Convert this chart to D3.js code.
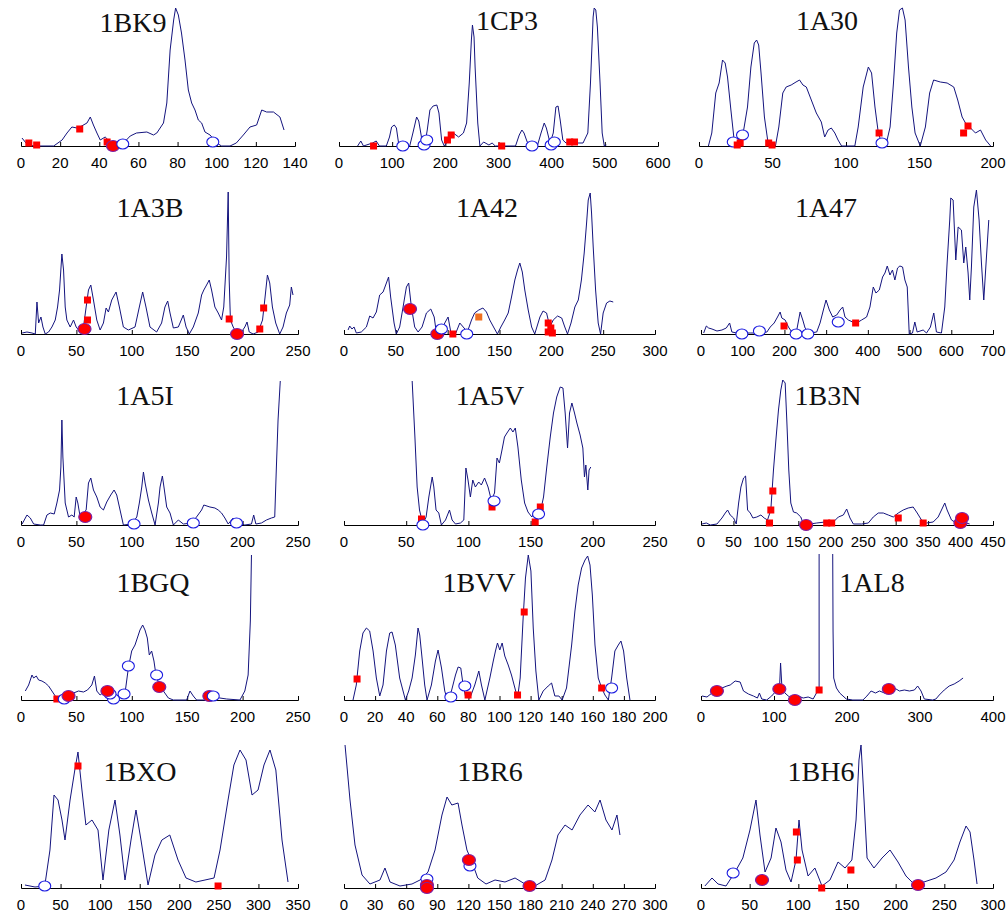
<!DOCTYPE html>
<html>
<head>
<meta charset="utf-8">
<script src="https://cdn.jsdelivr.net/npm/d3@7/dist/d3.min.js"></script>
<style>
  body { margin: 0; background: #fff; }
  .lbl { font-family: "Liberation Sans", Arial, sans-serif; font-size: 15px; fill: #000; }
  .title { font-family: "Liberation Serif", "Times New Roman", serif; font-size: 28px; fill: #111; }
</style>
</head>
<body>
<svg id="chart" width="1007" height="919"></svg>
<script>
// profile values per protein, [residue, value]
const bk9 = [[0.5,8],[3,2],[6.5,0],[16.7,0],[21,6],[23.5,13],[26,19],[28.6,18],[31,20],[33.7,23],[35.4,29],[37,21],[38.8,13],[40.5,6],[43,9],[45.6,4],[48,0],[52.4,3],[55.8,10],[59,13],[64.3,14],[67.7,11],[69.4,13],[72.8,23],[74.5,43],[76.2,96],[78,126],[79,138],[80.4,131],[82,113],[83.8,86],[85.5,56],[87.2,43],[88.9,36],[90.6,26],[92.3,23],[94,14],[96.6,11],[100,3],[102.5,0],[106.8,0],[110,3],[113.6,11],[117,19],[120.4,21],[123,36],[125.5,34],[129,34],[132.3,29],[134.4,16]];
const bk9Marks = [[4,3,"sq"],[8,1,"sq"],[30,17,"sq"],[44,4,"sq"],[47,0,"fc"],[52,2,"oc"],[98,4,"oc"]];

const cp3 = [[35,0],[41,5],[46,0],[63,3],[70,5],[76,0],[89,0],[95,9],[99,19],[104,21],[108,18],[112,3],[117,0],[133,0],[139,13],[146,29],[150,25],[156,6],[161,0],[166,16],[171,36],[177,40],[184,41],[188,33],[193,6],[198,0],[206,6],[215,13],[225,9],[234,13],[240,23],[245,63],[249,106],[251,121],[254,109],[256,79],[261,23],[265,0],[272,4],[282,1],[288,3],[294,0],[332,0],[339,11],[344,16],[348,13],[354,4],[364,0],[373,0],[380,13],[386,23],[390,18],[397,3],[403,13],[408,39],[412,40],[416,26],[421,6],[427,3],[446,3],[459,3],[468,13],[473,63],[478,129],[480,138],[483,136],[486,119],[491,63],[495,13],[499,0],[503,1]];
const cp3Marks = [[120,0,"oc"],[160,1,"oc"],[165,6,"oc"],[363,0,"oc"],[399,1,"oc"],[405,4,"oc"],[65,0,"sq"],[204,6,"sq"],[211,11,"sq"],[306,0,"sq"],[434,4,"sq"],[443,4,"sq"]];

const a30 = [[6.4,0],[8.7,13],[11.4,53],[13.7,63],[16,86],[17.8,83],[19.4,69],[21.7,36],[23.9,6],[26.2,0],[29.6,9],[33,39],[35.3,79],[37.6,103],[39.2,106],[40.6,101],[42.2,73],[44.5,29],[46.7,6],[49,0],[52,0],[54.3,19],[57,53],[59.3,59],[62.7,61],[66,64],[68.4,66],[70.7,61],[73,59],[76.4,46],[79.8,33],[83.2,24],[85.5,9],[87.8,16],[90,18],[92.4,13],[94.6,6],[97,0],[106,0],[108.3,19],[111.7,59],[115.2,79],[117.4,73],[119.7,39],[122,13],[124.3,3],[127,0],[130,19],[132.3,63],[134.5,113],[136.4,136],[138.4,138],[140.2,126],[142.5,79],[144.8,39],[147,13],[150.5,0],[154,19],[156.9,53],[159.6,66],[164.2,64],[168.8,63],[173.3,59],[176,46],[179,29],[181.3,23],[184.7,18],[188.1,13],[191.5,16],[195,6],[198.4,0]];
const a30Marks = [[23.3,4,"oc"],[29.6,11,"oc"],[124.5,3,"oc"],[26,1,"sq"],[28,3,"sq"],[47.4,3,"sq"],[49.7,1,"sq"],[122.5,13,"sq"],[180,13,"sq"],[183,20,"sq"]];

const a3b = [[1,1],[5.4,2],[9.9,1],[12.9,0],[14.4,32],[15.9,11],[18,17],[19.8,7],[21.9,0],[24.9,2],[27.9,7],[30.9,14],[33,27],[34.8,44],[36.9,80],[38.4,64],[39.9,27],[41.4,14],[44.4,7],[47.4,14],[49.8,7],[53.4,2],[56.4,7],[58.8,27],[60.9,44],[63,49],[65.4,34],[68.4,14],[71.4,4],[74.4,11],[76.8,26],[78.9,22],[81.9,34],[85.8,42],[88.8,27],[92.4,7],[96.9,4],[102.9,7],[106.8,27],[109.8,42],[112.8,27],[116.4,7],[122.4,2],[126.9,11],[129.9,27],[132.4,33],[134.5,21],[137.5,6],[142,7],[146.5,19],[149,7],[151.9,0],[155.5,7],[160,21],[163,39],[165,44],[167.5,49],[169.9,54],[172,44],[175,27],[178,21],[181,14],[183,27],[185.5,77],[187,142],[187.9,54],[189,14],[191.5,7],[195,0],[199,2],[202,7],[204,12],[206,2],[209.5,0],[214,2],[218,14],[220,34],[222.4,59],[224.5,51],[226.9,27],[229.9,11],[233.5,0],[236.5,7],[239.5,21],[242.5,29],[244,47],[245.5,39]];
const a3bMarks = [[60,34,"sq"],[60,14,"sq"],[187.9,15,"sq"],[215.5,5,"sq"],[219,26,"sq"],[57.3,5,"fc"],[195,0,"fc"]];

const a42 = [[3.9,4],[5.5,8],[7.7,5],[9.7,7],[11.9,1],[16.7,2],[21.6,7],[24.8,18],[28,16],[31.2,22],[34.4,39],[37.7,42],[40.9,51],[43,57],[45,37],[48.3,11],[50.5,0],[53.7,7],[57,27],[60.2,47],[62.4,51],[65,27],[68.2,7],[71.5,2],[75.3,7],[79.5,21],[83.7,25],[87,17],[89,2],[93.3,2],[97.2,11],[100.4,17],[103,2],[107.5,0],[111.7,11],[115,7],[119,2],[123,14],[126,21],[130,24],[134,26],[137.4,22],[140.6,14],[144.8,6],[148,0],[151.3,7],[155,14],[158.4,21],[161.6,37],[164.8,54],[167.4,64],[169.6,71],[172,62],[174.4,44],[177.7,24],[181,7],[184,0],[189,17],[192,23],[195.4,21],[198.6,7],[201.8,14],[206,18],[210,16],[213,7],[215.6,0],[219,11],[222.7,27],[226,34],[229,54],[231.7,81],[234,111],[235.6,134],[237.5,141],[238.8,121],[240.4,87],[242.7,44],[245.2,11],[247.5,0],[250,21],[253.3,31],[256.5,33],[259.7,32]];
const a42Marks = [[63.7,25,"fc"],[90,0,"fc"],[94,5,"oc"],[118.4,0,"oc"],[105,0,"sq"],[130,17,"os"],[197,11,"sq"],[199.5,6,"sq"],[201,1,"sq"],[197,2,"sq"]];

const a47 = [[6.4,1],[12.8,8],[18.3,6],[26.3,5],[38.3,3],[50.2,4],[60.6,6],[68.6,11],[74,2],[86,1],[118,1],[142,1],[158,2],[166,7],[175.4,11],[183.4,17],[189.7,22],[193.7,16],[201.7,14],[209.6,7],[217.6,2],[229.6,4],[237.6,22],[244,14],[249.5,6],[261.5,1],[277.4,2],[285.4,11],[293.4,24],[299.7,34],[307.7,24],[315.7,17],[325.3,19],[333.3,24],[339.7,27],[345.2,17],[353.2,14],[363.6,12],[373.2,11],[385,14],[397,17],[405,27],[413,47],[419.4,41],[427.4,44],[435.3,57],[441,61],[446.5,68],[452.9,59],[459,64],[464.8,54],[471.2,66],[476.8,68],[483.2,67],[488.8,54],[494.4,47],[499.2,0],[507,1],[512.6,12],[518.2,2],[532.6,4],[540.6,1],[550,7],[558,21],[564.4,2],[576.4,1],[584.4,27],[590,71],[596.3,114],[598.8,136],[604.4,134],[610.8,74],[616.4,107],[624.3,104],[629.9,71],[634.7,87],[640.3,61],[644.3,34],[648.3,67],[653.9,127],[660.3,144],[666.7,114],[672.3,71],[677.9,34],[684.3,77],[689.9,114]];
const a47Marks = [[98,0,"oc"],[140,3,"oc"],[228,0,"oc"],[256,0,"oc"],[329,12,"oc"],[199,8,"sq"],[370.7,11,"sq"]];

const a5i = [[1,1],[5.4,10],[8.4,7],[11.4,1],[17.4,0],[20.4,0],[23.4,10],[26.4,12],[30,11],[32.4,22],[34.8,35],[36,58],[36.9,105],[37.8,68],[39.9,22],[42.9,8],[45.9,10],[48,8],[49.8,28],[51.3,22],[53.4,8],[56.4,12],[58.8,15],[60.9,42],[63,47],[65.4,35],[68.4,28],[71.4,18],[74.4,15],[77.4,23],[81,30],[84,35],[86.4,30],[89.4,15],[92.4,0],[99.9,1],[104.5,8],[106.8,22],[109,38],[110.5,53],[112,42],[115,25],[118,12],[121,0],[124,22],[125.5,38],[127.6,49],[129.4,35],[131.5,18],[134.5,12],[137.5,0],[142,5],[146.5,1],[154,2],[158.4,8],[163,15],[165,20],[170.5,18],[175,17],[178,15],[181,12],[184,7],[187,1],[191.5,7],[196,2],[202,0],[208,1],[210,10],[212,1],[217,2],[221.5,5],[226,7],[229,8],[230.4,55],[232,105],[234,144]];
const a5iMarks = [[58,8,"fc"],[102,1,"oc"],[155.5,2,"oc"],[194.5,2,"oc"]];

const a5v = [[54.8,144],[57,88],[58.8,38],[60.7,15],[63.4,1],[66,8],[68.2,28],[70.9,48],[72.2,38],[74,15],[76.2,12],[78.3,0],[81.6,5],[84.8,15],[86.9,5],[89.6,1],[93.6,2],[96.3,5],[98,57],[99.7,45],[101.6,28],[103.5,45],[105.6,38],[108.3,43],[110.4,40],[113,47],[115.8,38],[118.4,25],[121,32],[123,67],[124.9,62],[127,75],[129,88],[131,92],[133.7,97],[135.8,93],[137.7,97],[139.8,78],[142.5,45],[145.2,22],[147.9,13],[151,8],[153.7,15],[157,8],[160.4,28],[163,58],[165.8,88],[168.4,112],[171,128],[173.8,138],[176,137],[177.8,112],[179.7,77],[181.3,112],[183.2,122],[185.3,112],[187.2,102],[189.8,90],[192,77],[193.3,48],[194.4,60],[196,35],[197,55],[198.4,58]];
const a5vMarks = [[62.3,6,"sq"],[119,18,"sq"],[153.7,3,"sq"],[157.8,18,"sq"],[63.4,0,"oc"],[120.6,24,"oc"],[156.4,11,"oc"]];

const b3n = [[1.5,1],[8.2,2],[14.4,0],[24.6,1],[32.3,7],[37.4,12],[41,15],[45,10],[50.2,7],[54.3,1],[58,22],[61.5,38],[65.6,47],[68.7,49],[71.8,15],[75.9,12],[80,7],[86,8],[92.3,10],[97.4,7],[102.5,5],[107.6,15],[111.7,55],[115.8,88],[119.4,115],[123,135],[126,145],[129.7,142],[132.2,105],[135.3,55],[138.4,22],[142.5,13],[147.6,12],[153.8,8],[157.9,1],[168,1],[178.4,2],[191.2,3],[204,3],[211.7,8],[219.4,10],[224.5,16],[229.6,7],[234.8,1],[247.6,1],[257.8,2],[265.5,8],[273.2,12],[280.9,12],[288.6,10],[296.3,8],[304,12],[311.6,15],[319.3,17],[327,18],[333.2,12],[339.8,5],[347.5,2],[357.8,3],[365.5,8],[370.6,15],[375.7,22],[379.3,15],[386,5],[393.6,2],[403.9,3],[414,1]];
const b3nMarks = [[105.6,2,"sq"],[107.6,15,"sq"],[110.7,34,"sq"],[193.7,2,"sq"],[201.4,2,"sq"],[304,7,"sq"],[342.4,2,"sq"],[162,0,"fc"],[399.8,2,"fc"],[402.4,7,"fc"]];

const bgq = [[3.9,9],[6.9,15],[9.9,25],[11.4,22],[13.8,24],[15.9,20],[18.9,19],[21.9,17],[24.9,14],[27.9,9],[30.9,4],[33.9,0],[38.4,1],[42.9,4],[47.4,7],[51.9,9],[56.4,8],[60,10],[63.9,15],[66.3,24],[68.4,9],[71.4,5],[75.9,9],[80.4,4],[84.9,1],[89.4,5],[93.9,7],[96.9,32],[99.9,49],[102.9,55],[105,62],[107.4,70],[109.8,75],[111.9,70],[114,62],[115.8,45],[117.9,49],[120,39],[121.8,25],[124.8,15],[128.5,9],[133,2],[137.5,0],[149.5,0],[152.5,9],[155.5,4],[158.5,0],[167.5,0],[173.5,4],[179.5,2],[185.6,1],[197.6,0],[202,9],[205,25],[207,79],[208,145]];
const bgqMarks = [[32.4,1,"sq"],[39,1,"oc"],[83.5,1,"oc"],[80.4,6,"oc"],[93,6,"oc"],[96.9,34,"oc"],[122.4,25,"oc"],[42.9,4,"fc"],[124.8,13,"fc"],[78,9,"fc"],[170,4,"fc"],[173.5,4,"oc"]];

const bvv = [[5.8,0],[7.9,15],[10.1,49],[12.2,67],[14.4,72],[16.5,69],[18.7,49],[20.8,22],[23,4],[25.1,15],[27.3,49],[29.4,67],[30.9,68],[33,55],[35.8,22],[39.5,0],[41.6,9],[43.8,22],[45.9,45],[47.6,72],[48.7,65],[50.2,42],[51.9,15],[53.4,0],[56.2,15],[58.8,39],[60.5,50],[62.7,32],[64.8,9],[66.5,0],[69.1,9],[71.7,25],[73.4,33],[75.1,32],[76.6,15],[78.1,4],[81,2],[84.1,15],[86.7,29],[88.4,15],[90.6,0],[93.8,22],[96,39],[97.4,49],[98.7,57],[100.2,50],[101.7,57],[103.4,44],[105.6,35],[107.7,25],[109.9,12],[111.6,2],[113.3,22],[115.2,82],[116.7,122],[118.5,145],[120.2,129],[121.7,72],[123.4,29],[125.3,0],[128.1,9],[131.3,14],[133.5,17],[135.6,4],[138.2,4],[140.3,0],[143.1,12],[146.4,55],[148.5,89],[150.6,115],[152.8,132],[155,140],[156.7,144],[158.2,135],[159.7,105],[161.4,55],[163.5,22],[165.7,12],[167.8,5],[170,0],[172.1,22],[174.2,49],[176.4,55],[178.1,59],[179.8,49],[181.8,22],[183.9,0]];
const bvvMarks = [[68.7,3,"oc"],[77.7,14,"oc"],[172.1,12,"oc"],[8.4,21,"sq"],[79.8,5,"sq"],[111.6,5,"sq"],[115.9,88,"sq"],[165.7,12,"sq"]];

const al8 = [[1.4,4],[8.2,3],[15,7],[21.8,10],[28.6,12],[35.5,14],[40,15],[46.8,19],[53.6,18],[58.2,9],[65,6],[71.8,4],[77.3,2],[80,7],[83.2,1],[90,0],[96.8,4],[102.7,9],[107.3,7],[109,37],[110.9,12],[115,7],[119.5,4],[126.4,1],[133.2,4],[140,2],[146.8,3],[153.6,1],[158.2,7],[161.8,12],[161.8,300],[179.5,300],[180.9,69],[181.8,22],[185.5,12],[190,7],[194.5,4],[199,1],[208,0],[221.8,0],[227.3,4],[233,9],[239,7],[244.5,9],[251.4,7],[258,10],[265,12],[271.8,9],[278.6,10],[285.5,9],[292.3,10],[296.8,14],[301.4,9],[305.9,1],[317.3,0],[321.8,1],[326.4,5],[333.2,10],[340,14],[346.8,16],[353.6,19],[359,22]];
const al8Marks = [[21.8,9,"fc"],[107.3,11,"fc"],[128.6,0,"fc"],[257.3,11,"fc"],[161.8,10,"sq"]];

const bxo = [[5,3],[17.7,1],[30,2],[36.6,38],[41.7,93],[46.8,88],[51.8,68],[55.6,48],[62,88],[68,118],[72,136],[77,98],[82,63],[89.7,68],[97.3,58],[103.6,8],[111,58],[118.8,88],[125,53],[131.4,8],[139,48],[145.3,78],[151.6,48],[160.5,3],[169.3,33],[178,48],[188,53],[198.4,28],[208.5,10],[221,6],[232.5,8],[243.9,10],[251.5,38],[261.6,88],[269,123],[276.7,138],[284.3,128],[291.9,93],[299.5,98],[307,123],[314.6,138],[322,118],[329.8,48],[337.4,6]];
const bxoMarks = [[30,2,"oc"],[72,122,"sq"],[249,2,"sq"]];

const br6 = [[1,143],[5.8,88],[10.6,43],[17.4,13],[25,4],[34.7,8],[39.5,20],[44.4,6],[54,2],[65.6,4],[73.3,8],[81,16],[87.8,38],[94.5,73],[99.4,91],[104,83],[110,85],[113.8,63],[118.6,38],[123.5,26],[129,10],[137,4],[145.7,8],[155.3,6],[165,10],[174.6,4],[184,2],[194,8],[200.6,28],[206.4,53],[213.2,63],[220,58],[227.6,73],[235.4,83],[242,76],[247,88],[252.7,68],[258.5,58],[263.3,73],[266.2,53]];
const br6Marks = [[80,9,"oc"],[80,3,"fc"],[80,0,"fc"],[121.5,22,"oc"],[120.5,28,"fc"],[179,2,"fc"]];

const bh6 = [[4,2],[11.3,10],[17.5,4],[25.7,2],[35,16],[43,30],[50.3,58],[56.5,88],[60.6,53],[65.8,16],[72,30],[77,60],[82.2,46],[87.3,18],[92.5,6],[97.6,28],[100.7,68],[103.8,38],[110,12],[117,20],[124.3,2],[132.5,8],[140.8,26],[148,20],[155,28],[159.3,68],[162.3,128],[164.4,143],[167.5,88],[170.6,30],[177.7,20],[186,30],[194.2,38],[202.4,26],[210.6,12],[218.8,4],[229,6],[241.4,10],[251.7,16],[260,28],[266,46],[272.3,62],[276.4,56],[280.5,28],[283.6,4]];
const bh6Marks = [[33,15,"oc"],[62.7,8,"fc"],[98,56,"sq"],[99,28,"sq"],[124,0,"sq"],[154,18,"sq"],[223,3,"fc"]];

const names = ["1BK9","1CP3","1A30","1A3B","1A42","1A47","1A5I","1A5V","1B3N","1BGQ","1BVV","1AL8","1BXO","1BR6","1BH6"];
const xMaxes = [140,600,200,250,300,700,250,250,450,250,200,400,350,300,300];
const tickSteps = [20,100,50,50,50,100,50,50,50,50,20,100,50,30,50];
const lines = [bk9,cp3,a30,a3b,a42,a47,a5i,a5v,b3n,bgq,bvv,al8,bxo,br6,bh6];
const marks = [bk9Marks,cp3Marks,a30Marks,a3bMarks,a42Marks,a47Marks,a5iMarks,a5vMarks,b3nMarks,bgqMarks,bvvMarks,al8Marks,bxoMarks,br6Marks,bh6Marks];

// layout
const rowBase = [146, 334, 525, 700, 888];
const colsTop = [[21,295],[339,658],[699,993]];
const cols = [[21,298],[344,655],[701,993]];
const titlePos = [[133,32],[507,30],[827,30],[150,217],[487,217],[826,217],[145,405],[490,405],[828,405],[153,592],[479,592],[872,592],[140,781],[490,781],[821,781]];

const svg = d3.select("#chart");
const defs = svg.append("defs");

names.forEach((name, i) => {
  const row = Math.floor(i / 3), col = i % 3;
  const base = rowBase[row];
  const [x0, x1] = (row === 0 ? colsTop : cols)[col];

  const x = d3.scaleLinear().domain([0, xMaxes[i]]).range([x0, x1]);
  const y = d3.scaleLinear().domain([0, 140]).range([base, base - 140]);

  defs.append("clipPath").attr("id", "clip" + i)
    .append("rect")
    .attr("x", x0 - 2).attr("y", base - 146)
    .attr("width", x1 - x0 + 4).attr("height", 148);

  const g = svg.append("g");

  // axis, ticks pointing inward; labels drawn separately
  const ticks = [];
  for (let t = 0; t <= xMaxes[i]; t += tickSteps[i]) ticks.push(t);
  const axis = d3.axisBottom(x)
    .tickValues(ticks)
    .tickSize(-4)
    .tickFormat("");
  const ax = g.append("g")
    .attr("transform", `translate(0,${base})`)
    .call(axis);
  ax.select(".domain").attr("stroke", "#000");
  ax.selectAll(".tick line").attr("stroke", "#000");

  g.append("g").selectAll("text")
    .data(ticks)
    .join("text")
    .attr("class", "lbl")
    .attr("x", d => x(d))
    .attr("y", base + 22)
    .attr("text-anchor", "middle")
    .text(d => d);

  g.append("path")
    .datum(lines[i])
    .attr("clip-path", `url(#clip${i})`)
    .attr("fill", "none")
    .attr("stroke", "#14147e")
    .attr("stroke-width", 1)
    .attr("d", d3.line().x(d => x(d[0])).y(d => y(d[1])));

  const m = g.append("g");
  marks[i].forEach(d => {
    const cx = x(d[0]), cy = y(d[1]);
    if (d[2] === "sq" || d[2] === "os") {
      m.append("rect")
        .attr("x", cx - 3.5).attr("y", cy - 3.5)
        .attr("width", 7).attr("height", 7)
        .attr("fill", d[2] === "sq" ? "#ff0000" : "#f07020");
    } else if (d[2] === "oc") {
      m.append("ellipse")
        .attr("cx", cx).attr("cy", cy)
        .attr("rx", 6).attr("ry", 5)
        .attr("fill", "#fff")
        .attr("stroke", "#1a1ae0")
        .attr("stroke-width", 1.1);
    } else {
      m.append("ellipse")
        .attr("cx", cx).attr("cy", cy)
        .attr("rx", 6.5).attr("ry", 5.5)
        .attr("fill", "#ff0000")
        .attr("stroke", "#7a22a8")
        .attr("stroke-width", 1.2);
    }
  });

  svg.append("text")
    .attr("class", "title")
    .attr("x", titlePos[i][0])
    .attr("y", titlePos[i][1])
    .attr("text-anchor", "middle")
    .text(name);
});
</script>
</body>
</html>
